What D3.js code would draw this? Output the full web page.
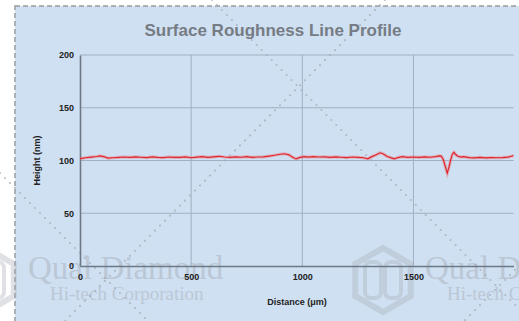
<!DOCTYPE html>
<html><head><meta charset="utf-8">
<script src="https://cdn.jsdelivr.net/npm/d3@7"></script>
<style>html,body{margin:0;padding:0;background:#fff;overflow:hidden}svg{display:block}</style>
</head><body>
<svg id="c" width="519" height="321"></svg>
<script>
const title = "Surface Roughness Line Profile";
const xLabel = "Distance (μm)";
const yLabel = "Height (nm)";
const xTicks = [0, 500, 1000, 1500];
const yTicks = [0, 50, 100, 150, 200];
const distance = [0,25,50,75,90,110,125,150,175,200,225,250,275,300,325,350,375,400,425,450,475,500,525,550,575,600,625,650,675,700,725,750,775,800,825,850,875,900,920,940,955,972,990,1010,1025,1050,1075,1100,1125,1150,1175,1200,1225,1250,1275,1295,1310,1330,1350,1365,1380,1400,1415,1430,1450,1475,1500,1525,1550,1575,1600,1615,1625,1635,1645,1652,1660,1668,1675,1682,1690,1700,1715,1725,1750,1775,1800,1825,1850,1875,1900,1925,1940,1950];
const height = [101.8,102.6,103.2,103.8,104.3,103.5,102.2,102.6,103.0,103.3,102.9,103.4,103.1,102.8,103.5,103.0,102.7,103.3,103.0,102.9,103.4,102.6,103.2,103.6,103.0,103.5,104.0,103.3,102.9,103.4,103.1,103.6,103.0,103.3,103.5,104.2,105.0,105.9,106.4,105.4,103.3,101.5,103.0,103.6,103.2,103.7,103.3,103.5,103.0,103.4,103.1,102.8,103.3,103.0,102.6,101.6,103.4,105.2,107.3,106.2,104.0,102.5,101.6,102.8,103.6,103.0,103.3,102.9,103.4,103.1,103.7,104.4,104.2,100.5,93.0,88.0,94.0,101.0,106.0,107.8,105.6,104.0,103.2,103.6,102.8,102.5,102.9,102.4,102.8,102.6,102.7,103.2,104.0,104.8];
const data = distance.map((d,i)=>({x:d,y:height[i]}));

const svg = d3.select("#c");
const x = d3.scaleLinear().domain([0,1950]).range([80, 513.5]);
const y = d3.scaleLinear().domain([0,200]).range([266, 55]);

// panel
svg.append("rect").attr("x",15).attr("y",6).attr("width",530).attr("height",340)
  .attr("fill","#cfe0f2").attr("stroke","#9a9a9a").attr("stroke-width",1.5).attr("stroke-dasharray","5,3");

// watermark group
const wm = svg.append("g").attr("pointer-events","none");
function dotted(x1,y1,x2,y2){
  const len = Math.hypot(x2-x1,y2-y1), n = Math.floor(len/7);
  for(let i=0;i<=n;i++){
    const t=i/n;
    wm.append("circle").attr("cx",x1+(x2-x1)*t).attr("cy",y1+(y2-y1)*t).attr("r",1.1).attr("fill","#a9b0b8").attr("opacity",0.8);
  }
}
dotted(212,0,560,350);
dotted(385,0,65,321);
dotted(0,173,150,323);
dotted(540,245,455,330);
function logo(cx,cy){
  const r=32, pts=d3.range(6).map(i=>{const a=Math.PI/3*i - Math.PI/2;return [cx+r*Math.cos(a), cy+r*Math.sin(a)];});
  wm.append("path").attr("d","M"+pts.join("L")+"Z").attr("fill","none").attr("stroke","#a3aab2").attr("stroke-width",6).attr("opacity",0.35);
  wm.append("rect").attr("x",cx-18).attr("y",cy-18).attr("width",16).attr("height",36).attr("rx",6).attr("fill","none").attr("stroke","#a3aab2").attr("stroke-width",4).attr("opacity",0.35);
  wm.append("rect").attr("x",cx+2).attr("y",cy-18).attr("width",16).attr("height",36).attr("rx",6).attr("fill","none").attr("stroke","#a3aab2").attr("stroke-width",4).attr("opacity",0.35);
}
function brand(tx){
  logo(tx-42, 280);
  wm.append("text").attr("x",tx).attr("y",279).text("Qual Diamond")
    .attr("font-family","Liberation Serif, serif").attr("font-size",33).attr("fill","#9ea4ab").attr("opacity",0.4);
  wm.append("text").attr("x",tx+22).attr("y",300).text("Hi-tech Corporation")
    .attr("font-family","Liberation Serif, serif").attr("font-size",19).attr("fill","#9ea4ab").attr("opacity",0.4);
}
brand(28); brand(425);

// grid
const g = svg.append("g");
g.selectAll(".hg").data(yTicks.filter(d=>d>0)).join("line")
  .attr("x1",x(0)).attr("x2",x(1950)).attr("y1",d=>y(d)).attr("y2",d=>y(d))
  .attr("stroke","#9fb0c2").attr("stroke-width",1);
g.selectAll(".vg").data(xTicks.filter(d=>d>0)).join("line")
  .attr("x1",d=>x(d)).attr("x2",d=>x(d)).attr("y1",y(0)).attr("y2",y(200))
  .attr("stroke","#9fb0c2").attr("stroke-width",1);

// axes
const xa = svg.append("g").attr("transform",`translate(0,${y(0)})`)
  .call(d3.axisBottom(x).tickValues(xTicks).tickFormat(d3.format("d")).tickSize(0).tickPadding(8));
const ya = svg.append("g").attr("transform",`translate(${x(0)},0)`)
  .call(d3.axisLeft(y).tickValues(yTicks).tickFormat(d3.format("d")).tickSize(0).tickPadding(6));
[xa,ya].forEach(a=>{
  a.select(".domain").attr("stroke","#6c7886").attr("stroke-width",1.6);
  a.selectAll("text").attr("font-family","Liberation Sans, Arial, sans-serif").attr("font-weight","bold").attr("font-size",9).attr("fill","#222");
});

// line
const line = d3.line().x(d=>x(d.x)).y(d=>y(d.y)).curve(d3.curveLinear);
svg.append("path").datum(data).attr("d",line).attr("fill","none").attr("stroke","#ee7a80").attr("stroke-width",3.2).attr("opacity",0.45);
svg.append("path").datum(data).attr("d",line).attr("fill","none").attr("stroke","#e0262c").attr("stroke-width",1.2);

// labels
svg.append("text").attr("x",273).attr("y",36).attr("text-anchor","middle").text(title)
  .attr("font-family","Liberation Sans, Arial, sans-serif").attr("font-weight","bold").attr("font-size",17).attr("fill","#767c84");
svg.append("text").attr("x",297).attr("y",305).attr("text-anchor","middle").text(xLabel)
  .attr("font-family","Liberation Sans, Arial, sans-serif").attr("font-weight","bold").attr("font-size",9).attr("fill","#222");
svg.append("text").attr("transform","translate(40,160.5) rotate(-90)").attr("text-anchor","middle").text(yLabel)
  .attr("font-family","Liberation Sans, Arial, sans-serif").attr("font-weight","bold").attr("font-size",9).attr("fill","#222");
</script>
</body></html>
